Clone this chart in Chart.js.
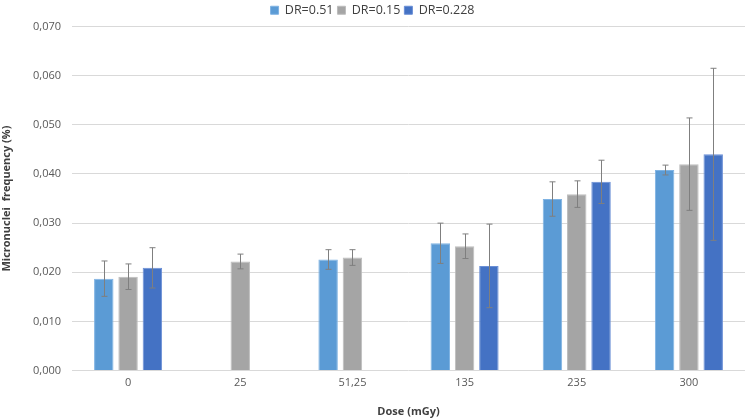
<!DOCTYPE html>
<html>
<head>
<meta charset="utf-8">
<script src="https://cdn.jsdelivr.net/npm/chart.js@4/dist/chart.umd.min.js"></script>
<style>
html,body{margin:0;padding:0;background:#fff;}
#wrap{width:749px;height:419px;}
</style>
</head>
<body>
<div id="wrap"><canvas id="c" width="749" height="419"></canvas></div>
<script>
const categories = ["0", "25", "51,25", "135", "235", "300"];
const seriesNames = ["DR=0.51", "DR=0.15", "DR=0.228"];
const dr051 = [0.0187, null, 0.0226, 0.0259, 0.0349, 0.0408];
const dr015 = [0.0191, 0.0222, 0.0230, 0.0253, 0.0359, 0.0420];
const dr0228 = [0.0209, null, null, 0.0213, 0.0384, 0.0440];
const err051 = [0.0036, null, 0.0020, 0.0041, 0.0035, 0.0010];
const err015 = [0.0026, 0.0015, 0.0016, 0.0025, 0.0027, 0.0094];
const err0228 = [0.0041, null, null, 0.0085, 0.0044, 0.0175];
const yTicks = [0, 0.01, 0.02, 0.03, 0.04, 0.05, 0.06, 0.07];

const errors = [err051, err015, err0228];

const errorBarPlugin = {
  id: 'errorBars',
  afterDatasetsDraw(chart) {
    const ctx = chart.ctx;
    const yScale = chart.scales.y;
    ctx.save();
    ctx.strokeStyle = '#7f7f7f';
    ctx.lineWidth = 1;
    chart.data.datasets.forEach((ds, di) => {
      const meta = chart.getDatasetMeta(di);
      meta.data.forEach((bar, i) => {
        const v = ds.data[i];
        const e = errors[di][i];
        if (v == null || e == null) return;
        const x = Math.round(bar.x) + 0.5;
        const yt = yScale.getPixelForValue(v + e);
        const yb = yScale.getPixelForValue(v - e);
        ctx.beginPath();
        ctx.moveTo(x, yt); ctx.lineTo(x, yb);
        ctx.moveTo(x - 3, yt); ctx.lineTo(x + 3, yt);
        ctx.moveTo(x - 3, yb); ctx.lineTo(x + 3, yb);
        ctx.stroke();
      });
    });
    ctx.restore();
  }
};

const colors = ['#5B9BD5', '#A5A5A5', '#4472C4'];
const borders = ['#7fb3e3', '#bdbdbd', '#6a8fd6'];
const seriesData = [dr051, dr015, dr0228];

new Chart(document.getElementById('c'), {
  type: 'bar',
  data: {
    labels: categories,
    datasets: seriesNames.map((n, i) => ({
      label: n,
      data: seriesData[i],
      backgroundColor: colors[i],
      borderColor: borders[i],
      borderWidth: 1,
      categoryPercentage: 0.65,
      barPercentage: 0.8
    }))
  },
  options: {
    responsive: false,
    animation: false,
    layout: { padding: { left: 0, right: 4, top: 0, bottom: 1 } },
    plugins: {
      legend: {
        position: 'top',
        labels: {
          boxWidth: 8, boxHeight: 8, padding: 4,
          color: '#404040',
          font: { family: 'Open Sans', size: 12.5 }
        }
      },
      tooltip: { enabled: false }
    },
    scales: {
      x: {
        grid: { display: false, drawTicks: false },
        border: { display: false },
        ticks: { color: '#595959', font: { family: 'Open Sans', size: 11 }, padding: 6 },
        title: { display: true, text: 'Dose (mGy)', color: '#404040', font: { family: 'Open Sans', size: 11, weight: 'bold' }, padding: { top: 9, bottom: 0 } }
      },
      y: {
        min: 0, max: 0.07,
        afterBuildTicks(scale) { scale.ticks = yTicks.map(v => ({ value: v })); },
        afterFit(scale) { scale.width = 72; },
        grid: { color: '#d9d9d9', drawTicks: false },
        border: { display: false },
        ticks: {
          color: '#595959', padding: 11,
          font: { family: 'Open Sans', size: 11 },
          callback: v => v.toFixed(3).replace('.', ',')
        },
        title: { display: true, text: 'Micronuclei  frequency (%)', color: '#404040', font: { family: 'Open Sans', size: 11, weight: 'bold' }, padding: { top: 0, bottom: 0 } }
      }
    }
  },
  plugins: [errorBarPlugin]
});
</script>
</body>
</html>
